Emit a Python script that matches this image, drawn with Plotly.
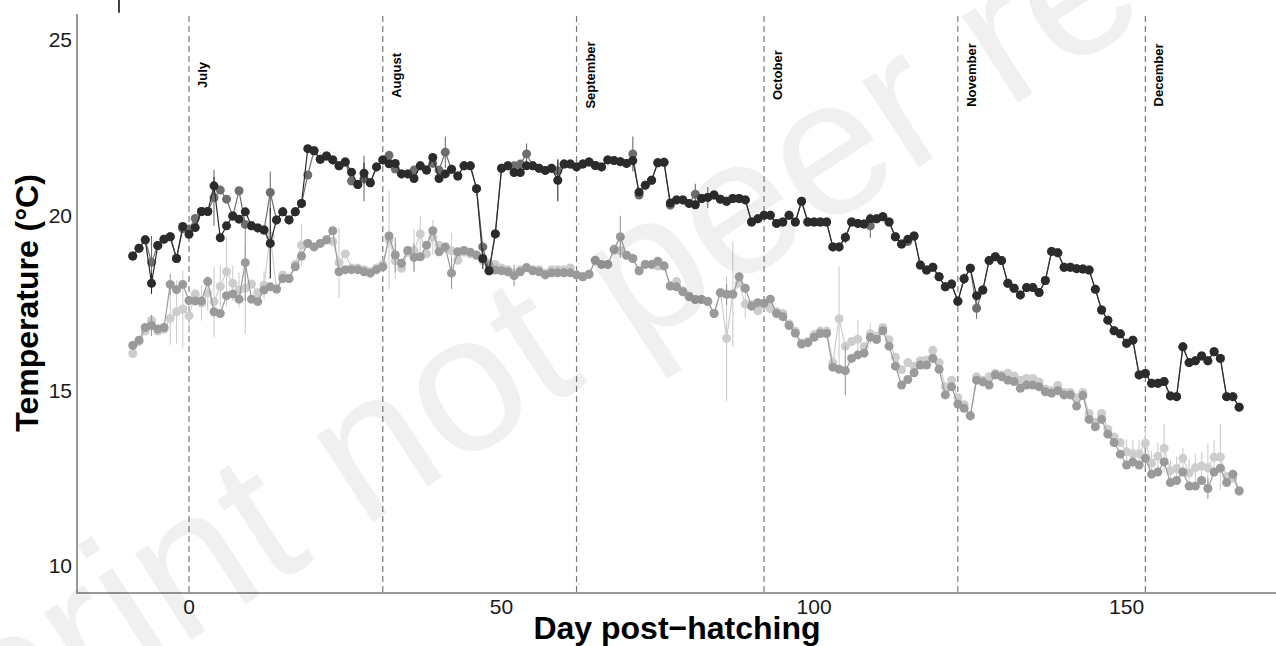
import plotly.graph_objects as go

# ---------------- data ----------------
DAYS = list(range(-9, 169))

DARK = [18.84, 19.06, 19.3, 18.06, 19.14, 19.32, 19.39, 18.77, 19.68,
        19.46, 19.65, 20.11, 20.11, 20.84, 19.36, 19.7, 19.98, 19.89, 20.1,
        19.7, 19.64, 19.58, 19.2, 19.87, 20.1, 19.87, 20.1, 20.34, 21.9,
        21.84, 21.6, 21.69, 21.58, 21.41, 21.52, 21.23, 20.88, 21.2, 20.93,
        21.38, 21.58, 21.47, 21.48, 21.18, 21.18, 21.05, 21.41, 21.29, 21.65,
        21.05, 21.18, 21.31, 21.12, 21.41, 21.41, 20.76, 18.77, 18.42, 19.47,
        21.34, 21.41, 21.22, 21.22, 21.41, 21.41, 21.34, 21.28, 21.34, 21.0,
        21.46, 21.46, 21.38, 21.46, 21.52, 21.42, 21.38, 21.58, 21.56, 21.53,
        21.48, 21.56, 20.66, 20.86, 21.0, 21.5, 21.51, 20.35, 20.44, 20.44,
        20.34, 20.3, 20.48, 20.51, 20.58, 20.46, 20.4, 20.48, 20.48, 20.44,
        19.81, 19.9, 20.0, 20.0, 19.77, 19.81, 20.0, 19.81, 20.4, 19.81,
        19.81, 19.81, 19.81, 19.1, 19.1, 19.37, 19.81, 19.77, 19.75, 19.9,
        19.9, 19.96, 19.81, 19.39, 19.18, 19.32, 19.41, 18.58, 18.44, 18.52,
        18.25, 17.96, 18.04, 17.55, 18.19, 18.49, 17.71, 17.87, 18.71, 18.82,
        18.71, 18.06, 17.92, 17.73, 17.94, 17.94, 17.8, 18.14, 18.97, 18.93,
        18.52, 18.52, 18.48, 18.47, 18.44, 17.89, 17.3, 17.01, 16.71, 16.62,
        16.35, 16.44, 15.45, 15.49, 15.21, 15.21, 15.26, 14.85, 14.83, 16.25,
        15.8, 15.85, 15.99, 15.85, 16.11, 15.92, 14.83, 14.83, 14.53]

DARK2 = [18.84, 19.06, 19.3, 18.66, 19.14, 19.32, 19.39, 18.77, 19.62,
         19.61, 19.91, 20.11, 20.11, 20.5, 20.72, 20.46, 19.98, 20.70, 19.74,
         19.7, 19.64, 19.58, 20.65, 19.87, 20.1, 19.87, 20.1, 20.34, 21.15,
         21.84, 21.6, 21.69, 21.58, 21.41, 21.52, 20.98, 20.88, 21.05, 20.93,
         21.38, 21.58, 21.71, 21.32, 21.18, 21.18, 21.29, 21.41, 21.29, 21.48,
         21.29, 21.8, 21.31, 21.12, 21.41, 21.41, 20.76, 19.1, 18.42, 19.47,
         21.34, 21.41, 21.41, 21.46, 21.75, 21.41, 21.34, 21.28, 21.34, 21.27,
         21.46, 21.46, 21.38, 21.46, 21.52, 21.42, 21.38, 21.58, 21.56, 21.53,
         21.48, 21.75, 20.58, 20.86, 21.0, 21.5, 21.51, 20.29, 20.44, 20.44,
         20.34, 20.6, 20.48, 20.51, 20.58, 20.46, 20.4, 20.48, 20.48, 20.44,
         19.81, 19.9, 20.0, 20.0, 19.77, 19.81, 20.0, 19.81, 20.4, 19.81,
         19.81, 19.81, 19.81, 19.1, 19.1, 19.37, 19.81, 19.77, 19.75, 19.7,
         19.9, 19.96, 19.81, 19.39, 19.18, 19.25, 19.41, 18.58, 18.44, 18.52,
         18.25, 17.96, 18.04, 17.55, 18.19, 18.49, 17.35, 17.87, 18.71, 18.82,
         18.71, 18.06, 17.92, 17.73, 17.94, 17.94, 17.8, 18.14, 18.97, 18.93,
         18.52, 18.52, 18.48, 18.47, 18.44, 17.89, 17.3, 17.01, 16.71, 16.62,
         16.35, 16.44, 15.45, 15.49, 15.21, 15.21, 15.26, 14.85, 14.83, 16.25,
         15.8, 15.85, 15.99, 15.85, 16.11, 15.92, 14.83, 14.83, 14.53]

MID = [16.29, 16.44, 16.8, 16.86, 16.76, 16.8, 18.03, 17.88, 18.03,
       17.57, 17.56, 17.56, 18.11, 17.25, 17.2, 17.71, 17.76, 17.61, 18.65,
       17.61, 17.54, 17.87, 17.96, 17.9, 18.2, 18.2, 18.53, 18.84, 19.2,
       19.1, 19.2, 19.3, 19.56, 18.39, 18.45, 18.45, 18.45, 18.39, 18.35,
       18.45, 18.53, 19.41, 18.87, 18.63, 19.0, 18.8, 18.82, 19.15, 19.56,
       18.96, 19.1, 18.35, 18.96, 19.0, 18.95, 18.87, 18.75, 18.58, 18.44,
       18.42, 18.39, 18.28, 18.39, 18.51, 18.42, 18.39, 18.3, 18.36, 18.36,
       18.36, 18.36, 18.3, 18.25, 18.32, 18.72, 18.6, 18.6, 19.03, 19.39,
       18.86, 18.77, 18.42, 18.6, 18.6, 18.69, 18.56, 17.98, 17.96, 17.82,
       17.68, 17.6, 17.6, 17.54, 17.2, 17.79, 17.75, 17.75, 18.25, 17.92,
       17.41, 17.51, 17.49, 17.61, 17.2, 17.11, 16.86, 16.64, 16.33, 16.37,
       16.52, 16.63, 16.63, 15.67, 15.61, 15.57, 15.92, 16.02, 16.07, 16.52,
       16.46, 16.71, 16.27, 15.7, 15.16, 15.32, 15.51, 15.73, 15.73, 15.92,
       15.61, 14.88, 15.11, 14.62, 14.5, 14.28, 15.3, 15.25, 15.16, 15.45,
       15.4, 15.3, 15.26, 15.07, 15.16, 15.16, 15.11, 14.97, 14.93, 15.0,
       14.88, 14.88, 14.56, 14.86, 14.18, 13.97, 14.18, 13.76, 13.52, 13.19,
       12.88, 12.97, 12.88, 13.07, 12.62, 12.68, 12.97, 12.38, 12.44, 12.68,
       12.28, 12.28, 12.44, 12.21, 12.68, 12.79, 12.38, 12.62, 12.15]

LIGHT = [16.06, 16.4, 16.7, 17.0, 16.7, 16.75, 17.06, 17.25, 17.33,
         17.14, 17.76, 17.5, 17.78, 17.54, 17.97, 18.39, 18.06, 17.87, 17.92,
         18.04, 17.79, 18.01, 19.41, 17.9, 18.3, 18.2, 18.6, 19.15, 19.2,
         19.1, 19.2, 19.3, 19.25, 18.65, 18.9, 18.5, 18.5, 18.45, 18.4,
         18.5, 18.6, 19.3, 18.7, 18.49, 18.95, 18.99, 19.47, 18.9, 19.37,
         19.15, 19.05, 18.99, 18.72, 18.95, 18.9, 18.85, 18.7, 18.63, 18.6,
         18.5, 18.45, 18.35, 18.45, 18.5, 18.45, 18.45, 18.35, 18.45, 18.45,
         18.45, 18.5, 18.3, 18.25, 18.32, 18.7, 18.6, 18.6, 19.0, 18.99,
         18.86, 18.77, 18.42, 18.6, 18.6, 18.55, 18.55, 18.0, 18.11, 17.85,
         17.7, 17.6, 17.6, 17.55, 17.2, 17.8, 16.49, 17.75, 18.06, 17.47,
         17.45, 17.28, 17.45, 17.34, 17.25, 17.2, 16.9, 16.7, 16.35, 16.4,
         16.6, 16.7, 16.7, 15.8, 17.05, 16.27, 16.4, 16.47, 16.25, 16.62,
         16.55, 16.8, 16.45, 15.95, 15.6, 15.8, 15.7, 15.85, 15.87, 16.15,
         15.8, 15.11, 15.3, 14.8, 14.6, 14.3, 15.4, 15.3, 15.4, 15.5,
         15.45, 15.5, 15.42, 15.3, 15.35, 15.35, 15.25, 15.05, 15.0, 15.15,
         14.95, 14.95, 14.8, 14.95, 14.35, 14.1, 14.35, 13.9, 13.68, 13.52,
         13.26, 13.2, 13.2, 13.5, 12.93, 13.13, 13.36, 12.72, 12.78, 13.07,
         12.65, 12.8, 12.85, 12.8, 13.1, 13.11, 12.55, 12.5, 12.12]

# error-bar half widths (day -> value)
DARK_ERR = {-6: 0.3, 4: 0.25, 13: 1.0, 28: 0.3, 47: 0.3, 59: 0.6, 105: 0.15, 124: 0.15}
DARK2_ERR = {-6: 0.75, 4: 0.8, 13: 0.6, 28: 0.65, 41: 0.45, 54: 0.3, 59: 0.3,
             71: 0.5, 81: 0.3, 83: 0.3, 109: 0.35, 126: 0.3}
MID_ERR = {-6: 0.3, -3: 0.3, 9: 1.1, 33: 0.5, 36: 0.4, 42: 0.45, 52: 0.3,
           69: 0.6, 86: 0.3, 105: 0.7, 153: 0.3, 163: 0.3}
LIGHT_ERR = {-3: 0.75, -2: 0.9, -1: 1.1, 0: 0.5, 2: 0.5, 3: 0.5, 4: 1.0, 5: 0.6,
             6: 1.0, 7: 0.5, 8: 0.5, 9: 1.3, 12: 0.4, 13: 1.2, 18: 0.6, 24: 1.0,
             32: 1.4, 33: 0.5, 36: 0.6, 37: 0.5, 39: 0.5, 42: 0.5, 86: 1.78,
             87: 1.5, 89: 0.4, 104: 1.5, 107: 0.55, 109: 0.3, 150: 0.35,
             151: 0.4, 152: 0.4, 153: 0.45, 154: 0.35, 155: 0.4, 156: 0.7,
             157: 0.3, 158: 0.35, 159: 0.3, 160: 0.4, 161: 0.4, 162: 0.4,
             163: 0.7, 164: 0.5, 165: 0.95}

MONTH_DAYS = [0, 31, 62, 92, 123, 153]
MONTH_NAMES = ["July", "August", "September", "October", "November", "December"]

X_TICKS = [0, 50, 100, 150]
Y_TICKS = [10, 15, 20, 25]

# ---------------- figure ----------------
FONT = "Liberation Sans, Arial, sans-serif"

fig = go.Figure()

# watermark (very faint annotation)
fig.add_annotation(x=0.49, y=0.59, xref="paper", yref="paper",
                   text="Preprint not peer reviewed",
                   showarrow=False, textangle=-33,
                   font=dict(family=FONT, size=195, color="rgba(0,0,0,0.06)"))

series = [
    (LIGHT, LIGHT_ERR, "#cdcdcd"),
    (MID, MID_ERR, "#9a9a9a"),
    (DARK2, DARK2_ERR, "#6e6e6e"),
    (DARK, DARK_ERR, "#2b2b2b"),
]
for vals, errs, col in series:
    err = [errs.get(d, 0) for d in DAYS]
    fig.add_trace(go.Scatter(
        x=DAYS, y=vals, mode="lines+markers",
        line=dict(color=col, width=1.2),
        marker=dict(size=9, color=col),
        error_y=dict(type="data", array=err, color=col, thickness=1.1, width=0),
        showlegend=False, hoverinfo="skip",
    ))

for d, name in zip(MONTH_DAYS, MONTH_NAMES):
    fig.add_shape(type="line", xref="x", yref="paper", x0=d, x1=d, y0=0, y1=1,
                  line=dict(color="#7a7a7a", width=1.2, dash="6px,4px"), layer="below")
    fig.add_annotation(x=d, y=24.0, xref="x", yref="y", text=name, showarrow=False,
                       textangle=-90, xanchor="center", yanchor="middle", xshift=13,
                       font=dict(family=FONT, size=13, color="#000000", weight="bold"))

# small stroke at top edge
fig.add_shape(type="line", xref="paper", yref="paper", x0=0.0342, x1=0.0342,
              y0=1.002, y1=1.0242, line=dict(color="#000000", width=1.5))

fig.update_layout(
    width=1276, height=646,
    margin=dict(l=78, r=0, t=14, b=54),
    paper_bgcolor="white", plot_bgcolor="white",
    font=dict(family=FONT, color="#1a1a1a"),
    xaxis=dict(range=[-17.76, 173.9], tickvals=X_TICKS, showgrid=False, zeroline=False,
               showline=True, linecolor="#9a9a9a", linewidth=1.5, ticks="",
               ticklabelstandoff=-5,
               tickfont=dict(size=21, color="#1a1a1a"),
               title=dict(text="Day post\u2212hatching", standoff=2,
                          font=dict(size=32, color="#000000", weight="bold"))),
    yaxis=dict(range=[9.26, 25.74], tickvals=Y_TICKS, showgrid=False, zeroline=False,
               showline=True, linecolor="#9a9a9a", linewidth=1.5, ticks="",
               tickfont=dict(size=21, color="#1a1a1a"),
               title=dict(text="Temperature (\u00b0C)", standoff=0,
                          font=dict(size=32, color="#000000", weight="bold"))),
)

fig.write_html("out.html")
